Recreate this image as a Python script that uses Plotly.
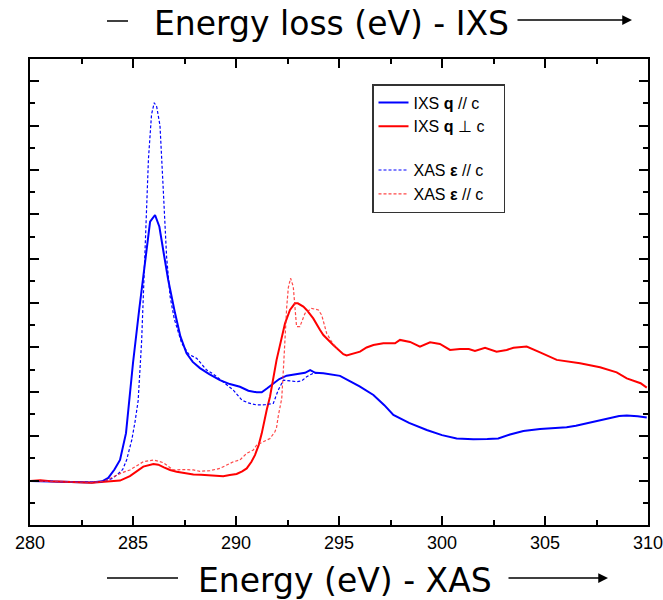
import plotly.graph_objects as go

# ---------------- data ----------------
ixs_para_x = [280.0, 281.0, 282.0, 283.0, 283.5, 283.8, 284.1, 284.37, 284.66, 285.0, 285.3, 285.5,
              285.83, 286.07, 286.28, 286.5, 286.71, 287.04, 287.3, 287.6, 287.9, 288.25, 288.7, 289.22,
              289.7, 290.19, 290.6, 291.0, 291.25, 291.5, 291.81, 292.1, 292.46, 292.8, 293.1, 293.35,
              293.6, 293.85, 294.24, 294.7, 295.05, 295.5, 296.0, 296.67, 297.2, 297.64, 298.4, 299.26,
              300.0, 300.71, 301.52, 302.2, 302.73, 303.3, 303.95, 304.76, 305.4, 306.05, 306.5, 307.02,
              307.6, 308.16, 308.6, 308.97, 309.5, 309.94]
ixs_para_y = [1.98, 1.96, 1.94, 1.92, 1.97, 2.12, 2.5, 2.93, 4.14, 7.3, 9.7, 11.2,
              13.67, 13.97, 13.44, 12.2, 11.04, 9.55, 8.5, 7.74, 7.35, 7.07, 6.8, 6.53,
              6.35, 6.23, 6.05, 5.98, 5.98, 6.15, 6.38, 6.58, 6.73, 6.78, 6.84, 6.86,
              6.98, 6.86, 6.84, 6.78, 6.72, 6.5, 6.25, 5.86, 5.4, 4.96, 4.6, 4.28,
              4.05, 3.9, 3.86, 3.87, 3.9, 4.08, 4.24, 4.33, 4.36, 4.4, 4.47, 4.58,
              4.72, 4.85, 4.91, 4.93, 4.9, 4.84]

ixs_perp_x = [280.0, 280.5, 281.0, 282.0, 283.0, 283.6, 284.0, 284.37, 284.85, 285.2, 285.5, 285.99,
              286.23, 286.5, 286.8, 287.12, 287.6, 287.93, 288.3, 288.74, 289.0, 289.38, 289.7, 290.03,
              290.3, 290.52, 290.75, 290.92, 291.1, 291.25, 291.49, 291.65, 291.97, 292.2, 292.38, 292.62,
              292.86, 293.0, 293.27, 293.43, 293.75, 294.08, 294.24, 294.72, 295.05, 295.21, 295.37, 295.7,
              296.02, 296.34, 296.67, 297.15, 297.72, 297.96, 298.2, 298.45, 298.93, 299.42, 299.9, 300.39,
              300.87, 301.3, 301.6, 302.09, 302.65, 303.14, 303.47, 304.11, 304.76, 305.57, 306.7, 307.67,
              308.48, 308.97, 309.64, 309.94]
ixs_perp_y = [1.98, 2.02, 1.97, 1.93, 1.9, 1.95, 1.98, 2.0, 2.2, 2.42, 2.63, 2.75,
              2.72, 2.6, 2.48, 2.4, 2.33, 2.28, 2.26, 2.23, 2.2, 2.2, 2.25, 2.3,
              2.42, 2.55, 2.85, 3.15, 3.6, 4.13, 5.18, 5.78, 7.44, 8.4, 9.09, 9.69,
              9.99, 9.99, 9.84, 9.69, 9.31, 8.79, 8.56, 8.11, 7.86, 7.7, 7.64, 7.74,
              7.81, 8.0, 8.11, 8.19, 8.19, 8.34, 8.3, 8.25, 8.04, 8.23, 8.16, 7.89,
              7.93, 7.93, 7.84, 7.99, 7.81, 7.89, 7.99, 8.04, 7.78, 7.44, 7.29, 7.11,
              6.88, 6.61, 6.39, 6.19]

xas_para_x = [280.0, 281.0, 282.0, 283.0, 283.5, 284.0, 284.21, 284.5, 284.69, 284.94, 285.1, 285.25,
              285.42, 285.58, 285.75, 285.9, 286.03, 286.15, 286.31, 286.47, 286.63, 286.8, 287.0, 287.36,
              287.7, 288.09, 288.35, 288.58, 288.9, 289.3, 289.87, 290.28, 290.6, 291.0, 291.4, 291.81,
              292.05, 292.3, 292.6, 292.94, 293.2, 293.43, 293.75, 294.0]
xas_para_y = [1.98, 1.96, 1.95, 1.93, 1.95, 2.1, 2.25, 2.5, 2.93, 3.83, 4.66, 5.6,
              8.3, 12.5, 16.5, 18.5, 19.03, 18.85, 18.0, 15.1, 12.1, 10.3, 9.3, 8.2,
              7.7, 7.51, 7.2, 6.98, 6.8, 6.5, 6.08, 5.63, 5.5, 5.41, 5.42, 5.48,
              6.08, 6.53, 6.5, 6.46, 6.5, 6.68, 6.84, 6.86]

xas_perp_x = [280.0, 281.0, 282.0, 283.0, 283.6, 284.05, 284.45, 284.85, 285.2, 285.5, 286.0, 286.47,
              286.96, 287.45, 287.93, 288.25, 288.74, 289.22, 289.87, 290.19, 290.52, 290.84, 291.0, 291.49,
              291.65, 291.89, 291.97, 292.05, 292.22, 292.3, 292.38, 292.46, 292.54, 292.65, 292.78, 292.94,
              293.1, 293.35, 293.67, 294.0, 294.16, 294.4, 294.64, 294.9]
xas_perp_y = [1.98, 1.97, 1.93, 1.92, 1.97, 2.18, 2.35, 2.48, 2.7, 2.85, 2.93, 2.81,
              2.48, 2.5, 2.48, 2.42, 2.45, 2.55, 2.85, 2.93, 3.23, 3.38, 3.6, 3.83,
              3.9, 4.2, 4.4, 4.9, 5.7, 7.0, 8.5, 9.8, 10.7, 11.12, 10.74, 8.94,
              8.94, 9.54, 9.76, 9.69, 9.46, 8.64, 8.26, 7.95]

names = ["IXS <b>q</b> // c", "IXS <b>q</b> \u22a5 c", "XAS <b>\u03b5</b> // c", "XAS <b>\u03b5</b> // c"]
x_ticks = [280, 285, 290, 295, 300, 305, 310]
top_title = "Energy loss (eV) - IXS"
bottom_title = "Energy (eV) - XAS"

# ---------------- figure ----------------
pad = "\u00a0\u00a0\u00a0"
fig = go.Figure()
fig.add_trace(go.Scatter(x=ixs_para_x, y=ixs_para_y, mode="lines", name=names[0] + pad, legendgroup="ixs",
                         line=dict(color="#0000ff", width=2)))
fig.add_trace(go.Scatter(x=ixs_perp_x, y=ixs_perp_y, mode="lines", name=names[1] + pad, legendgroup="ixs",
                         line=dict(color="#ff0000", width=2)))
fig.add_trace(go.Scatter(x=xas_para_x, y=xas_para_y, mode="lines", name=names[2] + pad, legendgroup="xas",
                         line=dict(color="#0000ff", width=1.2, dash="3px,2px")))
fig.add_trace(go.Scatter(x=xas_perp_x, y=xas_perp_y, mode="lines", name=names[3] + pad, legendgroup="xas",
                         line=dict(color="rgba(255,40,40,0.85)", width=1.2, dash="3px,2px")))

axis_common = dict(showline=True, linecolor="black", linewidth=2, mirror="ticks",
                   ticks="inside", tickcolor="black", tickwidth=1.5, ticklen=9,
                   showgrid=False, zeroline=False, automargin=False)

fig.update_xaxes(range=[280, 310], tickvals=x_ticks, ticktext=[str(v) for v in x_ticks],
                 tickfont=dict(family="Liberation Sans, Arial", size=18, color="black"),
                 ticklabeloverflow="allow",
                 minor=dict(dtick=2.5, tick0=280, ticks="inside", ticklen=5, tickcolor="black", tickwidth=1.5),
                 **axis_common)
fig.update_yaxes(range=[0, 21], tick0=0, dtick=2, showticklabels=False,
                 minor=dict(dtick=1, tick0=0, ticks="inside", ticklen=5, tickcolor="black", tickwidth=1.5),
                 **axis_common)

# axis titles as annotations with arrows
title_font = dict(family="DejaVu Sans", size=33, color="black")
fig.add_annotation(text=top_title, xref="paper", yref="paper", x=(331 - 30) / 618, y=(525 - 24) / 466,
                   showarrow=False, font=title_font, xanchor="center", yanchor="middle")
fig.add_annotation(text=bottom_title, xref="paper", yref="paper", x=(345 - 30) / 618, y=(525 - 580) / 466,
                   showarrow=False, font=title_font, xanchor="center", yanchor="middle")

# decorative lines and arrows
fig.add_shape(type="line", xref="paper", yref="paper", x0=(107 - 30) / 618, x1=(128 - 30) / 618,
              y0=(525 - 21) / 466, y1=(525 - 21) / 466, line=dict(color="black", width=1.5))
fig.add_shape(type="line", xref="paper", yref="paper", x0=(107 - 30) / 618, x1=(178 - 30) / 618,
              y0=(525 - 578) / 466, y1=(525 - 578) / 466, line=dict(color="black", width=1.5))
fig.add_annotation(text="", xref="paper", yref="paper", x=(632 - 30) / 618, y=(525 - 20) / 466,
                   ax=-116, ay=0, showarrow=True, arrowhead=2, arrowsize=1.3, arrowwidth=1.5, arrowcolor="black")
fig.add_annotation(text="", xref="paper", yref="paper", x=(608 - 30) / 618, y=(525 - 578) / 466,
                   ax=-101, ay=0, showarrow=True, arrowhead=2, arrowsize=1.3, arrowwidth=1.5, arrowcolor="black")

fig.update_layout(
    width=663, height=600,
    margin=dict(l=30, r=15, t=59, b=75, autoexpand=False),
    plot_bgcolor="white", paper_bgcolor="white",
    legend=dict(x=(372 - 30) / 618, y=(525 - 84) / 466, xanchor="left", yanchor="top",
                bordercolor="#333333", borderwidth=1.5, bgcolor="white",
                font=dict(family="Liberation Sans, Arial", size=16, color="black"),
                tracegroupgap=20, itemwidth=30),
)

fig.write_html("out.html")
